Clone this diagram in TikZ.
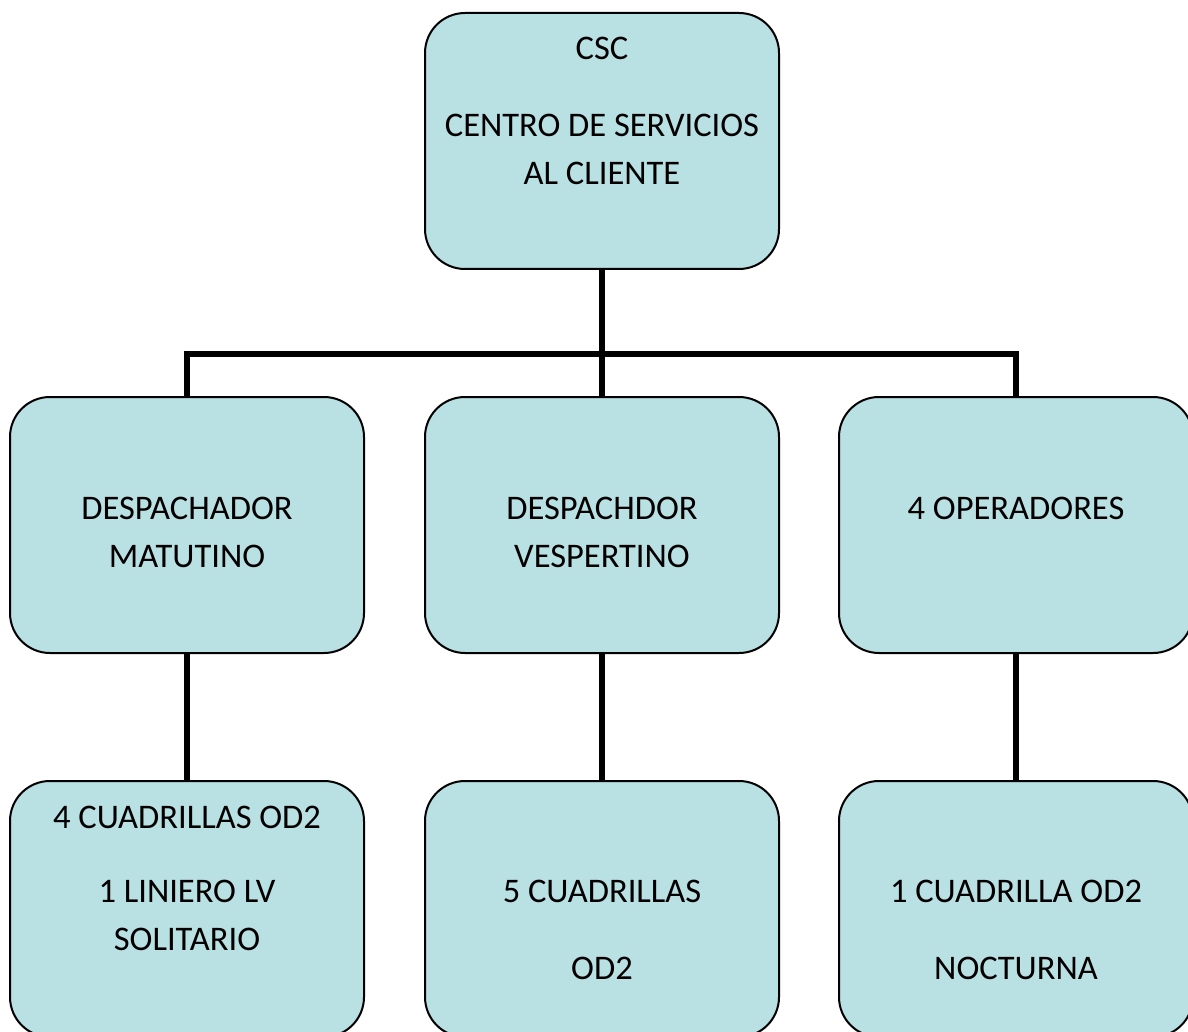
\documentclass[tikz,border=0pt]{standalone}
\usepackage{fontspec}
\setmainfont{Carlito}
\usepackage{tikz}
\usetikzlibrary{positioning, calc}
\definecolor{boxcyan}{RGB}{185, 224, 227}

\tikzset{
    unit/.style={draw=black, line width=1pt, fill=boxcyan, rounded corners=20pt,
        minimum width=177pt, minimum height=128pt, inner sep=0pt},
    lbl/.style={align=center, inner sep=0pt, anchor=north,
        font=\fontsize{17.25}{24}\selectfont},
    link/.style={line width=3pt}
}

\begin{document}
\begin{tikzpicture}[x=0.5pt, y=-0.5pt]
    \useasboundingbox (0,0) rectangle (1188,1032);

    % cajas
    \node[unit] (csc) at (602,141) {};
    \node[unit] (matutino) at (187,525) {};
    \node[unit] (vespertino) at (602,525) {};
    \node[unit] (operadores) at (1016,525) {};
    \node[unit] (cuadrillas) at (187,909) {};
    \node[unit] (cincocuad) at (602,909) {};
    \node[unit] (nocturna) at (1016,909) {};

    % textos
    \node[lbl, below=12.5pt of csc.north] (csc-t) {CSC\\[14.5pt] CENTRO DE SERVICIOS\\ AL CLIENTE};
    \node[lbl, below=50.5pt of matutino.north] (matutino-t) {DESPACHADOR\\ MATUTINO};
    \node[lbl, below=50.5pt of vespertino.north] (vespertino-t) {DESPACHDOR\\ VESPERTINO};
    \node[lbl, below=50.5pt of operadores.north] (operadores-t) {4 OPERADORES};
    \node[lbl, below=13pt of cuadrillas.north] (cuadrillas-t) {4 CUADRILLAS OD2\\[13pt] 1 LINIERO LV\\ SOLITARIO};
    \node[lbl, below=50pt of cincocuad.north] (cincocuad-t) {5 CUADRILLAS\\[14.5pt] OD2};
    \node[lbl, below=50pt of nocturna.north] (nocturna-t) {1 CUADRILLA OD2\\[14.5pt] NOCTURNA};

    % conectores
    \coordinate (hub) at (602,354);
    \draw[link] (csc.south) -- (hub);
    \draw[link] (matutino.north) |- (hub) -| (operadores.north);
    \draw[link] (hub) -- (vespertino.north);
    \draw[link] (matutino.south) -- (cuadrillas.north);
    \draw[link] (vespertino.south) -- (cincocuad.north);
    \draw[link] (operadores.south) -- (nocturna.north);
\end{tikzpicture}
\end{document}
